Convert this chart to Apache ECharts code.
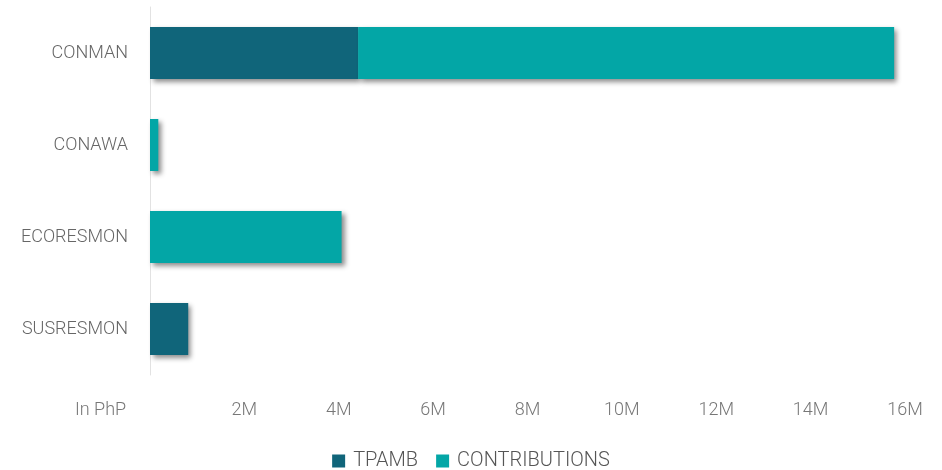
<!DOCTYPE html>
<html><head><meta charset="utf-8">
<script src="https://cdn.jsdelivr.net/npm/echarts@6/dist/echarts.min.js"></script>
<style>html,body{margin:0;padding:0;background:#fff}#c{width:942px;height:470px}</style>
</head><body><div id="c"></div>
<script>
const categories = ['CONMAN', 'CONAWA', 'ECORESMON', 'SUSRESMON'];
const tpamb = [4.41, 0, 0, 0.81];
const contributions = [11.36, 0.176, 4.06, 0];
const seriesNames = ['TPAMB', 'CONTRIBUTIONS'];
const colors = ['#10657a', '#03a6a6'];

const chart = echarts.init(document.getElementById('c'));
const shadow = {shadowColor: 'rgba(0,0,0,0.45)', shadowBlur: 5, shadowOffsetX: 3, shadowOffsetY: 3};
chart.setOption({
  animation: false,
  textStyle: {fontFamily: 'Roboto', fontWeight: 300},
  grid: {left: 150, right: 37, top: 7, bottom: 95},
  legend: {
    top: 446, left: 'center', itemWidth: 13, itemHeight: 13, itemGap: 18, icon: 'rect',
    textStyle: {fontSize: 20, color: '#555', fontFamily: 'Roboto', fontWeight: 300, padding: [0, 0, 0, 3]},
    data: seriesNames
  },
  xAxis: {
    type: 'value', min: 0, max: 16, interval: 2,
    axisLine: {show: false}, axisTick: {show: false}, splitLine: {show: false},
    axisLabel: {margin: 26, fontSize: 18, color: '#777', fontFamily: 'Roboto', fontWeight: 300,
      formatter: v => v === 0 ? '' : v + 'M'}
  },
  yAxis: {
    type: 'category', inverse: true, data: categories,
    axisLine: {show: true, lineStyle: {color: '#e2e2e2', width: 1}},
    axisTick: {show: false},
    axisLabel: {margin: 22, fontSize: 18, color: '#666', fontFamily: 'Roboto', fontWeight: 300}
  },
  graphic: [{type: 'text', left: 75, top: 401, style: {text: 'In PhP', fontSize: 18, fill: '#777', fontFamily: 'Roboto', fontWeight: 300}}],
  series: [
    {name: seriesNames[0], type: 'bar', stack: 's', barWidth: 52, data: tpamb,
     itemStyle: Object.assign({color: colors[0]}, shadow)},
    {name: seriesNames[1], type: 'bar', stack: 's', barWidth: 52, data: contributions,
     itemStyle: Object.assign({color: colors[1]}, shadow)}
  ]
});
</script></body></html>
